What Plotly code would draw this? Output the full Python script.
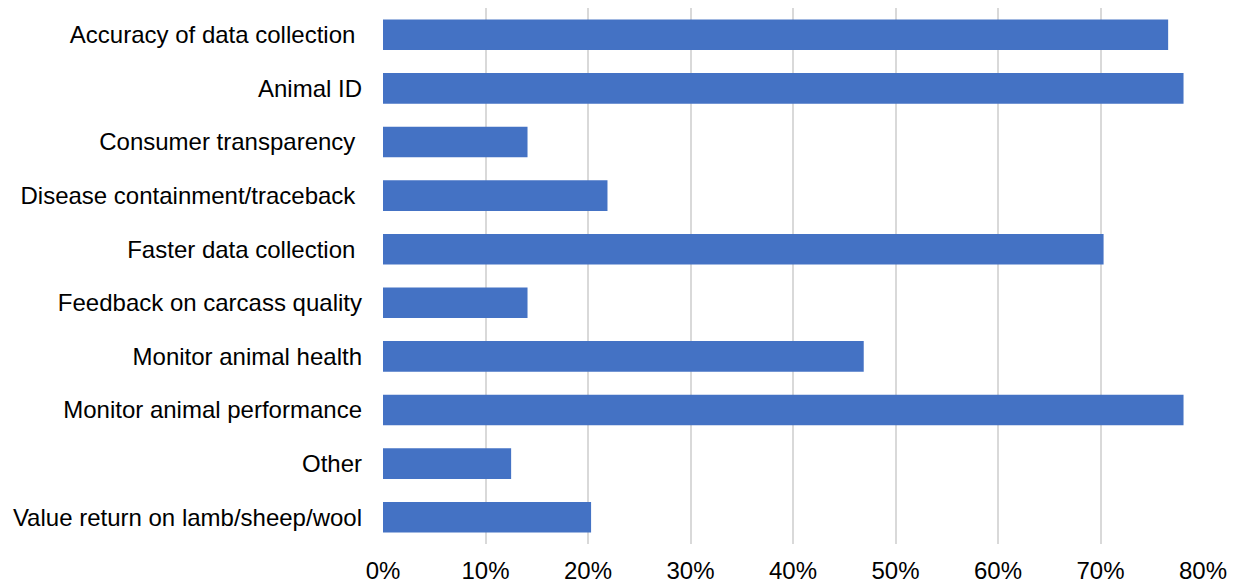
import plotly.graph_objects as go

categories = [
    "Accuracy of data collection\u00a0",
    "Animal ID",
    "Consumer transparency\u00a0",
    "Disease containment/traceback\u00a0",
    "Faster data collection\u00a0",
    "Feedback on carcass quality",
    "Monitor animal health",
    "Monitor animal performance",
    "Other",
    "Value return on lamb/sheep/wool",
]
shares = [0.766, 0.781, 0.141, 0.219, 0.703, 0.141, 0.469, 0.781, 0.125, 0.203]

tick_vals = [0, 0.1, 0.2, 0.3, 0.4, 0.5, 0.6, 0.7, 0.8]
tick_text = ["0%", "10%", "20%", "30%", "40%", "50%", "60%", "70%", "80%"]

fig = go.Figure(
    go.Bar(
        x=shares,
        y=categories,
        orientation="h",
        marker=dict(color="#4472C4", line=dict(width=0)),
        hoverinfo="x+y",
    )
)

fig.update_layout(
    width=1236,
    height=583,
    margin=dict(l=383, r=33, t=8, b=39),
    paper_bgcolor="white",
    plot_bgcolor="white",
    bargap=0.43,
    showlegend=False,
    font=dict(family="Liberation Sans, Arial, sans-serif", size=24, color="#000000"),
)

fig.update_xaxes(
    range=[0, 0.8],
    tickvals=tick_vals,
    ticktext=tick_text,
    showgrid=True,
    gridcolor="#d9d9d9",
    gridwidth=2,
    zeroline=False,
    showline=False,
    ticks="",
    ticklabelstandoff=10,
    tickfont=dict(size=24),
    automargin=False,
)

fig.update_yaxes(
    autorange="reversed",
    showgrid=False,
    showline=False,
    zeroline=False,
    ticks="",
    ticklabelstandoff=20,
    tickfont=dict(size=24),
    automargin=False,
)

fig.write_html("out.html")
